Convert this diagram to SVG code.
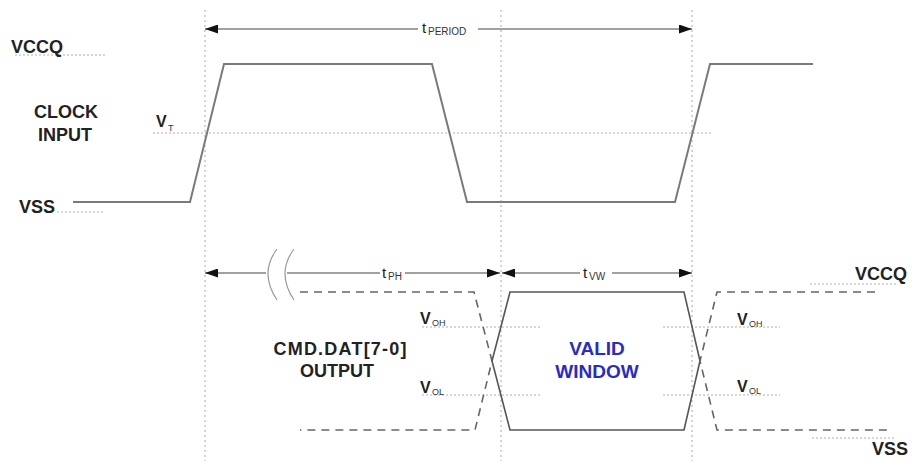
<svg xmlns="http://www.w3.org/2000/svg" width="912" height="461" viewBox="0 0 912 461">
<defs>
<style>
.lbl{font-family:"Liberation Sans",Arial,sans-serif;font-weight:bold;font-size:18px;fill:#222}
.v{font-family:"Liberation Sans",Arial,sans-serif;font-weight:bold;font-size:16px;fill:#222}
.sub{font-family:"Liberation Sans",Arial,sans-serif;font-size:9px;fill:#333}
.t{font-family:"Liberation Sans",Arial,sans-serif;font-size:15px;fill:#222}
.tsub{font-family:"Liberation Sans",Arial,sans-serif;font-size:10px;fill:#333}
.blue{font-family:"Liberation Sans",Arial,sans-serif;font-weight:bold;font-size:19px;fill:#2a2ac8}
.guide{stroke:#a8a8a8;stroke-width:1;stroke-dasharray:2 3;fill:none}
.ref{stroke:#b0b0b0;stroke-width:1;stroke-dasharray:2 2;fill:none}
.wave{stroke:#7a7a7a;stroke-width:2;fill:none;stroke-linejoin:miter}
.solid{stroke:#555;stroke-width:1.6;fill:none}
.dash{stroke:#666;stroke-width:1.6;fill:none;stroke-dasharray:8 6}
.dim{stroke:#444;stroke-width:1.2;fill:none}
.brk{stroke:#999;stroke-width:1.2;fill:none}
</style>
<marker id="ah" viewBox="0 0 13 9" refX="13" refY="4.5" markerWidth="13" markerHeight="9" markerUnits="userSpaceOnUse" orient="auto-start-reverse">
<path d="M0,0 L13,4.5 L0,9 Z" fill="#111"/>
</marker>
</defs>
<rect width="912" height="461" fill="#fff"/>

<g id="guides">
<line class="guide" x1="205" y1="10" x2="205" y2="461"/>
<line class="guide" x1="501" y1="10" x2="501" y2="461"/>
<line class="guide" x1="692" y1="10" x2="692" y2="461"/>
<line class="ref" x1="15" y1="55" x2="105" y2="55"/>
<line class="ref" x1="153" y1="133" x2="712" y2="133"/>
<line class="ref" x1="57" y1="212" x2="105" y2="212"/>
<line class="ref" x1="422" y1="327" x2="540" y2="327"/>
<line class="ref" x1="663" y1="327" x2="780" y2="327"/>
<line class="ref" x1="422" y1="395" x2="540" y2="395"/>
<line class="ref" x1="663" y1="395" x2="780" y2="395"/>
<line class="ref" x1="810" y1="284" x2="898" y2="284"/>
<line class="ref" x1="812" y1="438" x2="895" y2="438"/>
</g>

<g id="clock-waveform">
<path class="wave" d="M73,202 L190,202 L224,64 L432,64 L467,202 L675,202 L710,64 L813,64"/>
</g>

<g id="output-waveform">
<path class="dash" d="M300,292 L474,292 L492,361 L475,430 L300,430"/>
<path class="solid" d="M510,292 L684,292 L700,361 L684,430 L510,430 L492,361 Z"/>
<path class="dash" d="M875,292 L717,292 L700,361 L717,430 L890,430"/>
</g>

<g id="connectors">
<line class="dim" x1="205" y1="29" x2="418" y2="29" marker-start="url(#ah)"/>
<line class="dim" x1="478" y1="29" x2="692" y2="29" marker-end="url(#ah)"/>
<line class="dim" x1="205" y1="273" x2="266" y2="273" marker-start="url(#ah)"/>
<line class="dim" x1="287" y1="273" x2="380" y2="273"/>
<line class="dim" x1="405" y1="273" x2="500" y2="273" marker-end="url(#ah)"/>
<line class="dim" x1="502" y1="273" x2="580" y2="273" marker-start="url(#ah)"/>
<line class="dim" x1="612" y1="273" x2="692" y2="273" marker-end="url(#ah)"/>
<path class="brk" d="M277,249 Q259,273 277,300"/>
<path class="brk" d="M294,249 Q276,273 294,300"/>
</g>

<g id="label-vccq-left"><text class="lbl" x="11" y="53">VCCQ</text></g>
<g id="label-clock-input">
<text class="lbl" x="66" y="118" text-anchor="middle">CLOCK</text>
<text class="lbl" x="65" y="141" text-anchor="middle">INPUT</text>
</g>
<g id="label-vss-left"><text class="lbl" x="19" y="213">VSS</text></g>
<g id="label-vt"><text class="v" x="156" y="127">V</text><text class="sub" x="168" y="131">T</text></g>
<g id="label-tperiod"><text class="t" x="422" y="33">t</text><text class="tsub" x="428" y="35">PERIOD</text></g>
<g id="label-tph"><text class="t" x="382" y="278">t</text><text class="tsub" x="388" y="280">PH</text></g>
<g id="label-tvw"><text class="t" x="583" y="278">t</text><text class="tsub" x="589" y="280">VW</text></g>
<g id="label-voh-left"><text class="v" x="420" y="324">V</text><text class="sub" x="432" y="326">OH</text></g>
<g id="label-vol-left"><text class="v" x="420" y="393">V</text><text class="sub" x="432" y="395">OL</text></g>
<g id="label-voh-right"><text class="v" x="737" y="325">V</text><text class="sub" x="749" y="327">OH</text></g>
<g id="label-vol-right"><text class="v" x="737" y="392">V</text><text class="sub" x="749" y="394">OL</text></g>
<g id="label-cmd-output">
<text class="lbl" x="340" y="355" text-anchor="middle" textLength="133">CMD.DAT[7-0]</text>
<text class="lbl" x="337" y="377" text-anchor="middle">OUTPUT</text>
</g>
<g id="label-valid-window">
<text class="blue" x="597" y="355" text-anchor="middle">VALID</text>
<text class="blue" x="597" y="378" text-anchor="middle">WINDOW</text>
</g>
<g id="label-vccq-right"><text class="lbl" x="855" y="280">VCCQ</text></g>
<g id="label-vss-right"><text class="lbl" x="872" y="455">VSS</text></g>
</svg>
